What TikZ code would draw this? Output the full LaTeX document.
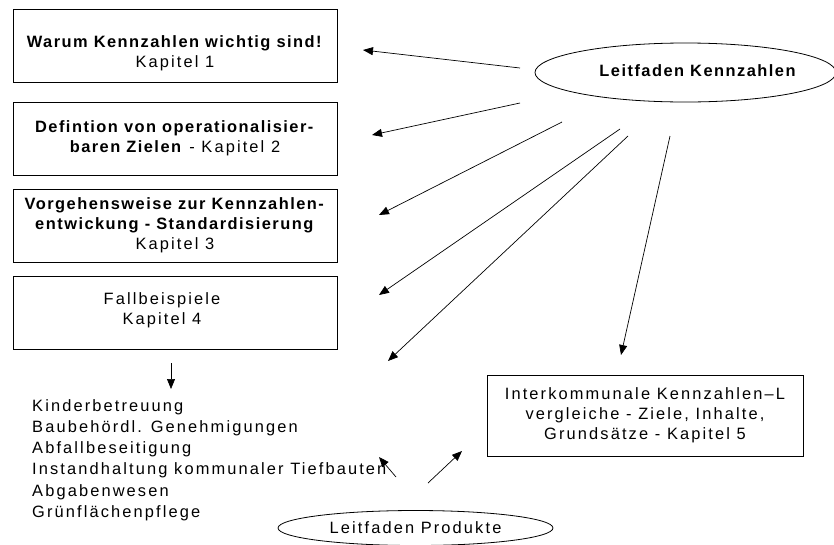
\documentclass[tikz,border=0pt]{standalone}
\usepackage{fontspec}
\setmainfont{Liberation Sans}[UprightFeatures={LetterSpace=13}, BoldFeatures={LetterSpace=9}]
\usetikzlibrary{arrows.meta,positioning,calc,shapes.geometric}

\begin{document}
\begin{tikzpicture}[
    x=1pt, y=-1pt,
    font=\fontsize{16.4}{20}\selectfont,
    kasten/.style={rectangle, draw, line width=0.8pt, minimum width=324pt, minimum height=73pt, inner sep=0pt, align=center},
    oval/.style={ellipse, draw, line width=0.8pt, inner sep=0pt},
    pfeil/.style={-{Triangle[length=10pt, width=8pt]}, line width=0.7pt},
]
    \useasboundingbox (0,0) rectangle (834,544);

    % Kapitel
    \node[kasten, label={[align=center, yshift=-8pt]center:\textbf{Warum Kennzahlen wichtig sind!}\\Kapitel 1}] (b1) at (175,45.5) {};
    \node[kasten] (b2) at (175,138.5) {\textbf{Defintion von operationalisier-}\\\textbf{baren Zielen} - Kapitel 2};
    \node[kasten] (b3) at (175,225.5) {\textbf{Vorgehensweise zur Kennzahlen-}\\\textbf{entwickung - Standardisierung}\\Kapitel 3};
    \node[kasten, label={[align=center, xshift=-13pt, yshift=2pt]center:Fallbeispiele\\Kapitel 4}] (b4) at (175,312.5) {};
    \node[kasten, minimum width=316pt, minimum height=81pt] (b5) at (645,415.5) {Interkommunale Kennzahlen--L\\vergleiche - Ziele, Inhalte,\\Grundsätze - Kapitel 5};

    % Leitfaeden
    \node[oval, minimum width=301pt, minimum height=59pt,
          label={[font=\fontsize{16.4}{20}\selectfont\bfseries, xshift=12pt, yshift=2pt]center:Leitfaden Kennzahlen}] (kz) at (685.5,72.5) {};
    \node[oval, minimum width=275pt, minimum height=35pt] (lp) at (415.5,528) {Leitfaden Produkte};

    \node[anchor=north west, align=left, inner sep=0pt, font=\fontsize{16.4}{21.3}\selectfont] (liste) at (32,399)
        {Kinderbetreuung\\Baubehördl. Genehmigungen\\Abfallbeseitigung\\Instandhaltung kommunaler Tiefbauten\\Abgabenwesen\\Grünflächenpflege};

    % Pfeilenden
    \coordinate (k1) at (520,68);  \coordinate (z1) at (363,50);
    \coordinate (k2) at (520,103); \coordinate (z2) at (372,135);
    \coordinate (k3) at (562,122); \coordinate (z3) at (379,215);
    \coordinate (k4) at (620,129); \coordinate (z4) at (379,295);
    \coordinate (k5) at (628,136); \coordinate (z5) at (388,361);
    \coordinate (k6) at (670,136); \coordinate (z6) at (621,355);
    \coordinate (p1) at (428,483); \coordinate (q1) at (462,451);
    \coordinate (p2) at (396,477); \coordinate (q2) at (379,457);
    \coordinate (f1) at (171,363); \coordinate (f2) at (171,389);

    \draw[pfeil] (k1) -- (z1);
    \draw[pfeil] (k2) -- (z2);
    \draw[pfeil] (k3) -- (z3);
    \draw[pfeil] (k4) -- (z4);
    \draw[pfeil] (k5) -- (z5);
    \draw[pfeil] (k6) -- (z6);
    \draw[pfeil] (p1) -- (q1);
    \draw[pfeil] (p2) -- (q2);
    \draw[pfeil] (f1) -- (f2);
\end{tikzpicture}
\end{document}
